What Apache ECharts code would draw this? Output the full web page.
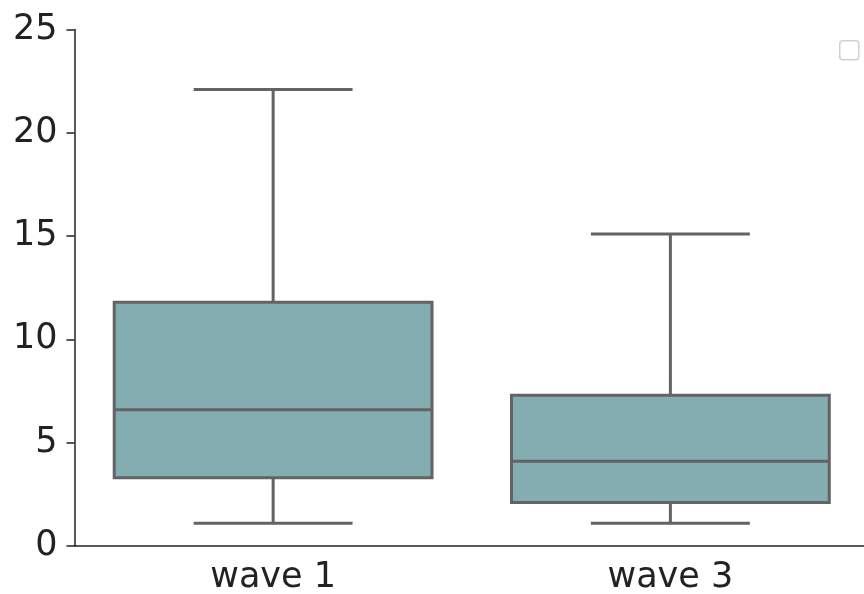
<!DOCTYPE html>
<html>
<head>
<meta charset="utf-8">
<script src="https://cdn.jsdelivr.net/npm/echarts@6/dist/echarts.min.js"></script>
<style>
  html, body { margin: 0; padding: 0; background: #fff; }
  #chart { width: 864px; height: 594px; }
</style>
</head>
<body>
<div id="chart"></div>
<script>
// Box statistics per wave
const categories = ['wave 1', 'wave 3'];
const lowerWhisker = [1.1, 1.1];
const q1 = [3.3, 2.1];
const median = [6.6, 4.1];
const q3 = [11.8, 7.3];
const upperWhisker = [22.1, 15.1];
const yTicks = [0, 5, 10, 15, 20, 25];

const boxFill = '#84adb1';
const lineGray = '#636363';

const rows = categories.map((c, i) => [i, lowerWhisker[i], q1[i], median[i], q3[i], upperWhisker[i]]);

function renderBox(params, api) {
  const idx = api.value(0);
  const band = api.size([1, 0])[0];
  const halfBox = band * 0.4;
  const halfCap = band * 0.2;
  const lo = api.coord([idx, api.value(1)]);
  const b1 = api.coord([idx, api.value(2)]);
  const med = api.coord([idx, api.value(3)]);
  const b3 = api.coord([idx, api.value(4)]);
  const hi = api.coord([idx, api.value(5)]);
  const x = lo[0];
  const ls = { stroke: lineGray, lineWidth: 3 };
  return {
    type: 'group',
    children: [
      { type: 'line', shape: { x1: x, y1: b1[1], x2: x, y2: lo[1] }, style: ls },
      { type: 'line', shape: { x1: x, y1: b3[1], x2: x, y2: hi[1] }, style: ls },
      { type: 'line', shape: { x1: x - halfCap, y1: lo[1], x2: x + halfCap, y2: lo[1] }, style: ls },
      { type: 'line', shape: { x1: x - halfCap, y1: hi[1], x2: x + halfCap, y2: hi[1] }, style: ls },
      { type: 'rect', shape: { x: x - halfBox, y: b3[1], width: halfBox * 2, height: b1[1] - b3[1] },
        style: { fill: boxFill, stroke: lineGray, lineWidth: 3 } },
      { type: 'line', shape: { x1: x - halfBox, y1: med[1], x2: x + halfBox, y2: med[1] }, style: ls }
    ]
  };
}

const chart = echarts.init(document.getElementById('chart'), null, { renderer: 'canvas' });
const axisText = { color: '#222', fontFamily: 'DejaVu Sans', fontSize: 35 };

chart.setOption({
  animation: false,
  backgroundColor: '#fff',
  grid: { left: 74.5, right: -5, top: 29.5, bottom: 48, containLabel: false, outerBoundsMode: 'none' },
  xAxis: {
    type: 'category',
    data: categories,
    boundaryGap: true,
    axisLine: { lineStyle: { color: '#222', width: 1.5 } },
    axisTick: { alignWithLabel: true, length: 8, lineStyle: { color: '#222', width: 1.5 } },
    axisLabel: Object.assign({ margin: 14 }, axisText),
    splitLine: { show: false }
  },
  yAxis: {
    type: 'value',
    min: yTicks[0],
    max: yTicks[yTicks.length - 1],
    interval: yTicks[1] - yTicks[0],
    axisLine: { show: true, lineStyle: { color: '#222', width: 1.5 } },
    axisTick: { show: true, length: 8, lineStyle: { color: '#222', width: 1.5 } },
    axisLabel: Object.assign({ margin: 17 }, axisText),
    splitLine: { show: false }
  },
  graphic: [
    { type: 'rect', left: 839, top: 40, shape: { width: 19, height: 19, r: 3 },
      style: { fill: '#fff', stroke: '#d0d0d0', lineWidth: 1.5 } }
  ],
  series: [{
    type: 'custom',
    renderItem: renderBox,
    encode: { x: 0, y: [1, 2, 3, 4, 5] },
    data: rows
  }]
});
</script>
</body>
</html>
